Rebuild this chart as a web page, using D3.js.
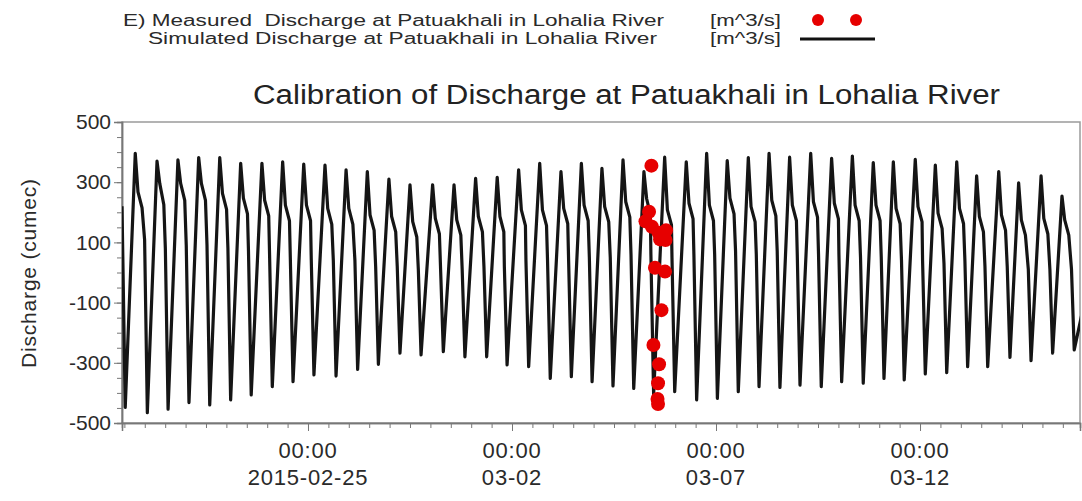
<!DOCTYPE html>
<html>
<head>
<meta charset="utf-8">
<script src="https://cdn.jsdelivr.net/npm/d3@7"></script>
<style>
  body { margin: 0; background: #fff; }
  svg { display: block; font-family: "Liberation Sans", Arial, sans-serif; }
</style>
</head>
<body>
<svg id="chart" width="1082" height="501"></svg>
<script>
// hours after 2015-02-20 00:00 (UTC)
var xDomainH = [10.6, 574.1];
var yDomain = [-500, 500];
var yTickValues = [500, 300, 100, -100, -300, -500];
var xTickDays = ["2015-02-25", "2015-03-02", "2015-03-07", "2015-03-12"];
var xTickLabels = ["2015-02-25", "03-02", "03-07", "03-12"];

// simulated series: one entry per tidal cycle
var simStart = [10.6, 220];
var simEnd = [575.3, -136];
var peakH = [18.4, 31.2, 43.5, 55.7, 68.1, 80.4, 92.9, 105.1, 117.5, 130.0, 142.4, 154.9, 167.6, 180.0, 193.3,
  205.9, 218.6, 231.3, 243.9, 256.3, 268.8, 280.8, 292.9, 305.3, 317.6, 329.8, 342.5, 354.5, 366.6, 379.0,
  391.2, 403.3, 415.7, 428.0, 440.2, 452.5, 464.3, 477.2, 489.0, 501.6, 513.3, 526.3, 538.0, 551.2, 563.5];
var peakQ = [396, 370, 374, 382, 382, 363, 363, 368, 360, 357, 341, 335, 310, 291, 291,
  291, 313, 316, 341, 363, 335, 363, 346, 374, 335, 383, 368, 396, 372, 382,
  396, 383, 396, 379, 387, 365, 368, 376, 357, 368, 321, 335, 298, 321, 254];
var shoulderQ = [268, 296, 296, 296, 263, 247, 240, 224, 224, 213, 213, 191, 186, 169, 180,
  175, 186, 186, 208, 208, 213, 224, 219, 235, 245, 208, 230, 224, 247, 219,
  240, 224, 235, 230, 224, 224, 213, 219, 197, 213, 186, 191, 175, 180, 175];
var plateauQ = [215, 225, 240, 240, 210, 195, 188, 172, 172, 160, 160, 140, 135, 118, 128,
  124, 135, 135, 156, 156, 162, 172, 168, 184, 192, 158, 178, 172, 195, 168,
  188, 172, 184, 178, 172, 172, 162, 168, 146, 162, 135, 140, 124, 128, 124];
var kneeQ = [108, 80, 90, 90, 80, 70, 60, 50, 50, 40, 40, 20, 20, 10, 10,
  10, 20, 20, 40, 40, 40, 50, 50, 60, 60, 50, 60, 60, 70, 60,
  70, 60, 60, 60, 50, 50, 40, 40, 30, 40, 20, 20, 10, 10, 10];
var troughH = [12.5, 25.5, 37.7, 50.0, 62.2, 74.5, 86.6, 99.0, 111.2, 123.5, 136.5, 149.2, 161.4, 174.1, 186.5,
  199.6, 212.3, 225.1, 237.1, 249.8, 262.5, 274.9, 287.1, 299.4, 311.6, 323.3, 335.7, 348.6, 360.8, 373.1,
  385.3, 397.6, 409.4, 421.9, 433.9, 446.6, 458.8, 470.7, 483.1, 495.7, 508.0, 519.8, 532.9, 545.3, 558.0, 570.7];
var troughQ = [-448, -466, -454, -432, -440, -423, -407, -379, -363, -340, -344, -322, -305, -268, -274,
  -263, -280, -280, -307, -313, -352, -346, -363, -377, -385, -405, -396, -423, -418, -396,
  -379, -382, -374, -379, -363, -368, -352, -357, -337, -333, -313, -313, -282, -293, -268, -257];
var shoulderLag = 1.6, plateauLag = 4.0, kneeLead = 1.6;

// measured points
var measH = [322.0, 320.6, 318.5, 322.3, 326.2, 330.6, 330.3, 327.1, 324.1, 330.0, 327.9, 323.2, 326.5, 325.9, 325.6, 325.9];
var measQ = [355, 202, 170, 152, 132, 140, 108, 110, 16, 3, -125, -241, -305, -368, -420, -437];

var base = Date.UTC(2015, 1, 20);
function toDate(h) { return new Date(base + h * 3600e3); }

var svg = d3.select("#chart");
var pLeft = 122, pRight = 1080, pTop = 122, pBottom = 423;

var x = d3.scaleUtc().domain(xDomainH.map(toDate)).range([pLeft, pRight]);
var y = d3.scaleLinear().domain(yDomain).range([pBottom, pTop]);

// build simulated line points
var sim = [{t: toDate(simStart[0]), q: simStart[1]}, {t: toDate(troughH[0]), q: troughQ[0]}];
peakH.forEach(function(h, i) {
  var kneeH = troughH[i + 1] - kneeLead;
  sim.push({t: toDate(h), q: peakQ[i]});
  sim.push({t: toDate(h + shoulderLag), q: shoulderQ[i]});
  sim.push({t: toDate(Math.min(h + plateauLag, kneeH - 0.3)), q: plateauQ[i]});
  sim.push({t: toDate(kneeH), q: kneeQ[i]});
  sim.push({t: toDate(troughH[i + 1]), q: troughQ[i + 1]});
});
sim.push({t: toDate(simEnd[0]), q: simEnd[1]});

svg.append("defs").append("clipPath").attr("id", "plotclip")
  .append("rect").attr("x", pLeft).attr("y", pTop).attr("width", pRight - pLeft).attr("height", pBottom - pTop);

// frame
svg.append("rect").attr("x", pLeft).attr("y", pTop).attr("width", pRight - pLeft).attr("height", pBottom - pTop)
  .attr("fill", "none").attr("stroke", "#9a9a9a").attr("stroke-width", 1.5);

// y axis
svg.append("g").attr("transform", "translate(" + pLeft + ",0)")
  .call(d3.axisLeft(y).tickValues(d3.range(-500, 501, 50)).tickSize(5).tickFormat(""));
var yAxis = svg.append("g").attr("transform", "translate(" + pLeft + ",0)")
  .call(d3.axisLeft(y).tickValues(yTickValues).tickSize(8).tickPadding(3)
    .tickFormat(function(d) { return String(d); }));
yAxis.selectAll("text").attr("font-size", 21).attr("fill", "#2a2a2a")
  .attr("font-family", "Liberation Sans, Arial, sans-serif");

// x axis
svg.append("g").attr("transform", "translate(0," + pBottom + ")")
  .call(d3.axisBottom(x).ticks(d3.utcHour.every(12)).tickSize(5).tickFormat(""));
svg.append("g").attr("transform", "translate(0," + pBottom + ")")
  .call(d3.axisBottom(x).tickValues(xTickDays.map(function(d) { return new Date(d + "T00:00Z"); }))
    .tickSize(8).tickFormat(""));
svg.selectAll(".domain").attr("stroke", "#777").attr("stroke-width", 1.5);
svg.selectAll(".tick line").attr("stroke", "#777");

var xl = svg.append("g").attr("fill", "#2a2a2a").attr("font-size", 22)
  .attr("letter-spacing", 0.8).attr("text-anchor", "middle");
xTickDays.forEach(function(d, i) {
  var px = x(new Date(d + "T00:00Z"));
  xl.append("text").attr("x", px).attr("y", 458).text("00:00");
  xl.append("text").attr("x", px).attr("y", 485).text(xTickLabels[i]);
});

svg.append("text").attr("transform", "translate(36,273) rotate(-90)")
  .attr("text-anchor", "middle").attr("font-size", 21).attr("letter-spacing", 0.8).attr("fill", "#2a2a2a")
  .text("Discharge (cumec)");

// title
svg.append("text").attr("x", 253).attr("y", 104).attr("font-size", 27).attr("fill", "#222")
  .attr("textLength", 747).attr("lengthAdjust", "spacingAndGlyphs")
  .text("Calibration of Discharge at Patuakhali in Lohalia River");

// simulated line
var line = d3.line().x(function(d) { return x(d.t); }).y(function(d) { return y(d.q); });
svg.append("path").datum(sim).attr("clip-path", "url(#plotclip)")
  .attr("fill", "none").attr("stroke", "#151515").attr("stroke-width", 3.2)
  .attr("stroke-linejoin", "round").attr("d", line);

// measured dots
svg.append("g").selectAll("circle").data(measH).join("circle")
  .attr("cx", function(h) { return x(toDate(h)); })
  .attr("cy", function(h, i) { return y(measQ[i]); })
  .attr("r", 7).attr("fill", "#e60000");

// legend
var lg = svg.append("g").attr("font-size", 16).attr("fill", "#2a2a2a");
lg.append("text").attr("x", 123).attr("y", 26).attr("textLength", 541).attr("lengthAdjust", "spacingAndGlyphs")
  .style("white-space", "pre").text("E) Measured  Discharge at Patuakhali in Lohalia River");
lg.append("text").attr("x", 148).attr("y", 44).attr("textLength", 509).attr("lengthAdjust", "spacingAndGlyphs")
  .text("Simulated Discharge at Patuakhali in Lohalia River");
lg.append("text").attr("x", 710).attr("y", 26).attr("textLength", 71).attr("lengthAdjust", "spacingAndGlyphs").text("[m^3/s]");
lg.append("text").attr("x", 710).attr("y", 44).attr("textLength", 71).attr("lengthAdjust", "spacingAndGlyphs").text("[m^3/s]");
lg.selectAll("circle").data([818, 856]).join("circle")
  .attr("cx", function(d) { return d; }).attr("cy", 20).attr("r", 6).attr("fill", "#e60000");
lg.append("line").attr("x1", 800).attr("x2", 875).attr("y1", 39).attr("y2", 39)
  .attr("stroke", "#111").attr("stroke-width", 3);
</script>
</body>
</html>
